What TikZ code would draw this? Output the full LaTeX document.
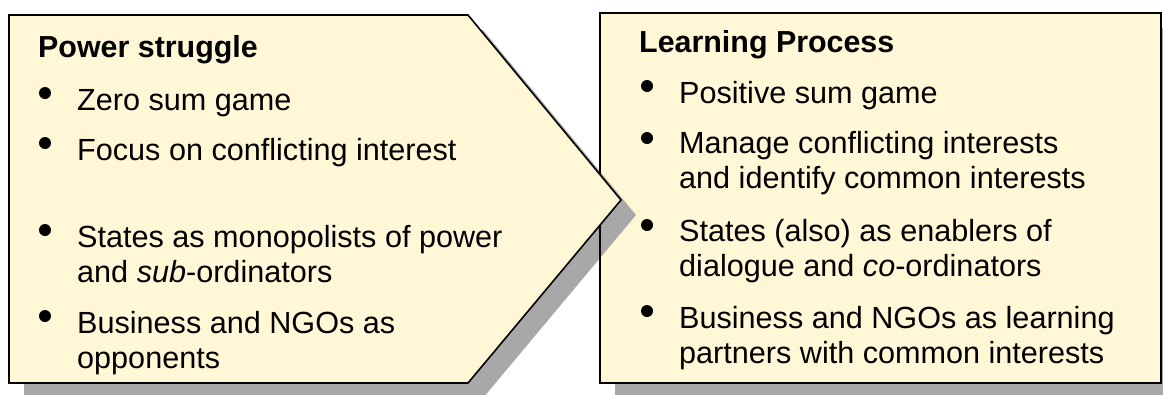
\documentclass[tikz,border=0pt]{standalone}
\usepackage{fontspec}
\setmainfont{Liberation Sans}
\definecolor{notefill}{RGB}{255,247,214}
\definecolor{shadowgray}{RGB}{168,168,168}
\tikzset{
  item/.style={anchor=base west, align=left, inner sep=0pt, font=\fontsize{30.6}{35}\selectfont},
  head/.style={item, font=\fontsize{30.4}{35}\selectfont\bfseries},
  panel/.style={fill=notefill, draw=black, line width=1.6pt, line join=miter},
  shade/.style={fill=shadowgray},
}
\begin{document}
\begin{tikzpicture}[x=1pt,y=-1pt]
	\useasboundingbox[clip] (0,0) rectangle (1163,394);
	% right panel with its shadow
	\fill[shade] (615,28) rectangle (1176,398);
	\fill[notefill] (600,13) rectangle (1161,383);
	% shadow of the arrow panel falls over the right one
	\fill[shade] (24,30) -- (483,30) -- (636,215) -- (483,398) -- (24,398) -- cycle;
	\draw[black, line width=1.6pt] (600,13) rectangle (1161,383);
	\draw[panel] (9,15) -- (468,15) -- (621,200) -- (468,383) -- (9,383) -- cycle;
	% left texts (two-line items sit on their last baseline)
	\node[head] (ps) at (38,57) {Power struggle};
	\node[item] (ps1) at (77,110) {Zero sum game};
	\node[item] (ps2) at (77,160) {Focus on conflicting interest};
	\node[item] (ps3) at (77,282) {States as monopolists of power\\and \textit{sub}-ordinators};
	\node[item] (ps4) at (77,368) {Business and NGOs as\\opponents};
	% right texts
	\node[head] (lp) at (639,52) {Learning Process};
	\node[item] (lp1) at (679,103) {Positive sum game};
	\node[item] (lp2) at (679,188) {Manage conflicting interests\\and identify common interests};
	\node[item] (lp3) at (679,276) {States (also) as enablers of\\dialogue and \textit{co}-ordinators};
	\node[item] (lp4) at (679,363) {Business and NGOs as learning\\partners with common interests};
	% bullets
	\foreach \n/\h in {ps1/17,ps2/17,ps3/52,ps4/52,lp1/17,lp2/50,lp3/51,lp4/52}
		\fill ([xshift=-32pt,yshift=\h pt]\n.base west) circle (6pt);
\end{tikzpicture}
\end{document}
